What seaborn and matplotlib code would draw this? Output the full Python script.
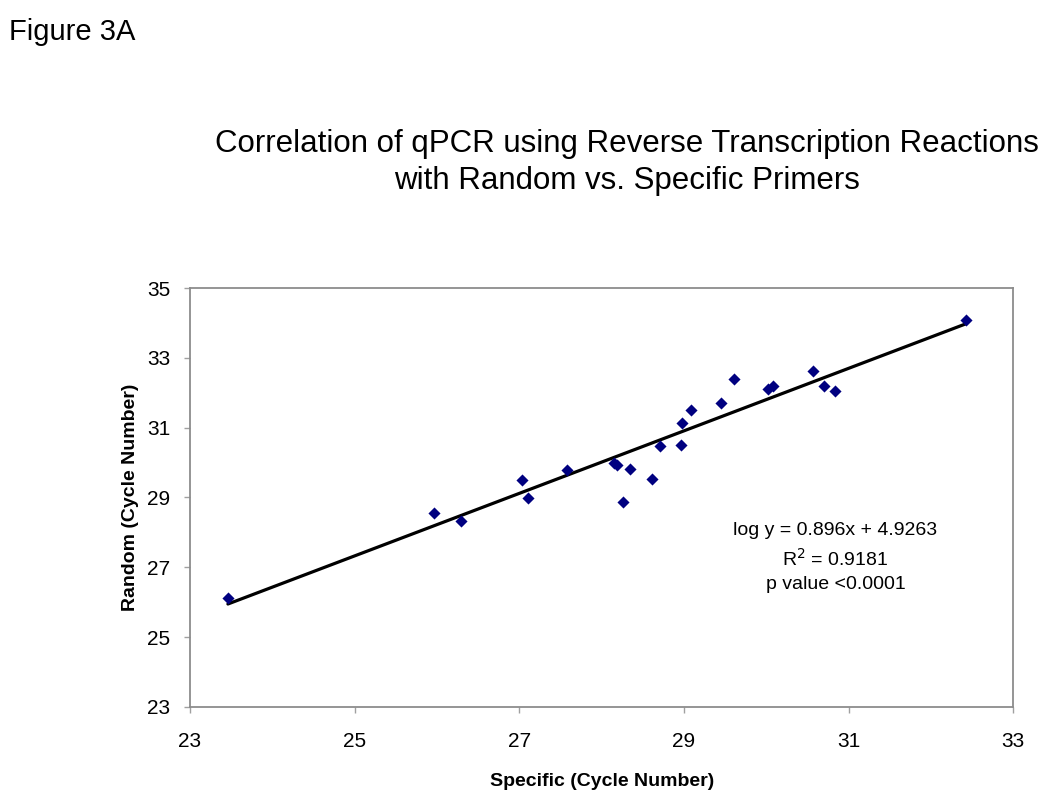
import numpy as np
import pandas as pd
import matplotlib
matplotlib.use("Agg")
import matplotlib.pyplot as plt
import seaborn as sns

# Ct values
specific = [23.46, 25.96, 26.29, 27.03, 27.11, 27.58, 28.15, 28.19, 28.34, 28.26,
            28.61, 28.71, 28.96, 28.97, 29.08, 29.45, 29.61, 30.02, 30.08, 30.57,
            30.70, 30.84, 32.42]
random_ct = [26.11, 28.55, 28.32, 29.49, 28.99, 29.78, 29.98, 29.92, 29.83, 28.87,
             29.53, 30.49, 30.50, 31.14, 31.52, 31.71, 32.39, 32.11, 32.19, 32.64,
             32.19, 32.05, 34.09]

# trendline as reported on the chart
slope = 0.896
intercept = 4.9263
ticks = [23, 25, 27, 29, 31, 33, 35]

sns.set_style("white")
plt.rcParams["font.family"] = ["Liberation Sans", "DejaVu Sans"]
plt.rcParams["text.color"] = "black"
plt.rcParams["axes.labelcolor"] = "black"

df = pd.DataFrame({"specific": specific, "random": random_ct})
fit_x = np.array([min(specific), max(specific)])
fit = pd.DataFrame({"x": fit_x, "y": slope * fit_x + intercept})

fig = plt.figure(figsize=(10.5, 8.05), dpi=100)
ax = fig.add_axes([0.181, 0.122, 0.784, 0.520])

sns.lineplot(data=fit, x="x", y="y", color="black", linewidth=2.3, ax=ax)
sns.scatterplot(data=df, x="specific", y="random", marker="D", s=38,
                color="#000080", linewidth=0, ax=ax, zorder=3)

ax.set_xlim(23, 33)
ax.set_ylim(23, 35)
ax.set_xticks(ticks[:6])
ax.set_yticks(ticks)
ax.tick_params(axis="both", labelsize=15, length=4, width=1, color="#a0a0a0",
               labelcolor="black", direction="out", bottom=True, left=True)
ax.tick_params(axis="x", pad=14)
ax.tick_params(axis="y", pad=10)
for s in ax.spines.values():
    s.set_color("#8c8c8c")
    s.set_linewidth(1.3)

ax.set_xlabel("Specific (Cycle Number)", fontsize=14, fontweight="bold", labelpad=16)
ax.set_ylabel("Random (Cycle Number)", fontsize=14, fontweight="bold", labelpad=6)

ax.text(0.784, 0.356, "log y = 0.896x + 4.9263\nR$^2$ = 0.9181\np value <0.0001",
        transform=ax.transAxes, ha="center", va="center", fontsize=14,
        linespacing=1.5)

fig.text(0.597, 0.798, "Correlation of qPCR using Reverse Transcription Reactions\n"
         "with Random vs. Specific Primers", ha="center", va="center",
         fontsize=22.5, linespacing=1.3)
fig.text(0.009, 0.96, "Figure 3A", ha="left", va="center", fontsize=21)

fig.savefig("out.png", dpi=100)
